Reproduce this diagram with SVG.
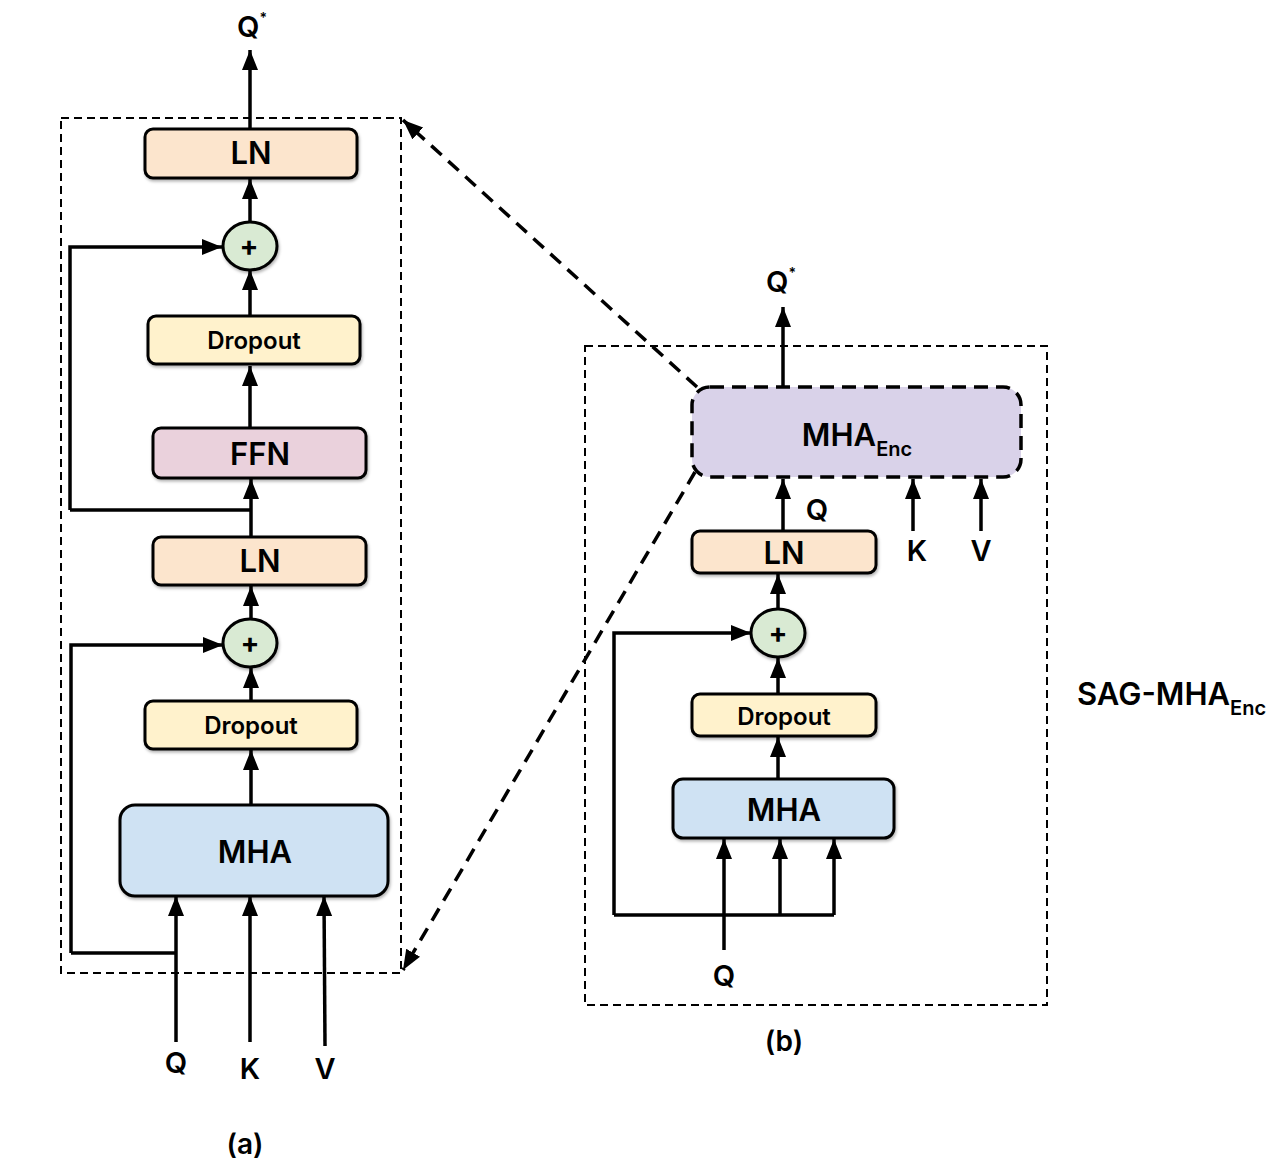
<svg xmlns="http://www.w3.org/2000/svg" width="1275" height="1167" viewBox="0 0 1275 1167">
<style>
text{font-family:Inter,"Noto Sans","Liberation Sans",sans-serif;font-weight:600;fill:#000;text-anchor:middle}
.box{stroke:#000;stroke-width:3}
.ln{fill:#fce5cd}.dp{fill:#fff2cc}.ffn{fill:#ead1dc}.mha{fill:#cfe2f3}.add{fill:#d9ead3;stroke:#000;stroke-width:3}
.enc{fill:#d9d2e9;stroke:#000;stroke-width:3.5;stroke-dasharray:14 8}
.frame{fill:none;stroke:#000;stroke-width:2;stroke-dasharray:8 5}
.w{fill:none;stroke:#000;stroke-width:3.5}
.a{fill:none;stroke:#000;stroke-width:3.5;marker-end:url(#ah)}
.d{fill:none;stroke:#000;stroke-width:3.5;stroke-dasharray:14 9;marker-end:url(#ah)}
.big{font-size:31px}.mid{font-size:24px}.lab{font-size:29px}
.plus{font-size:28px;font-weight:bold}
</style>
<defs>
<marker id="ah" markerUnits="userSpaceOnUse" markerWidth="22" markerHeight="18" refX="20" refY="8" orient="auto">
<path d="M0,0 L20,8 L0,16 z" fill="#000"/>
</marker>
<filter id="sh" x="-10%" y="-10%" width="120%" height="130%">
<feDropShadow dx="1" dy="2" stdDeviation="1.5" flood-color="#000" flood-opacity="0.3"/>
</filter>
</defs>

<rect class="frame" x="61" y="118" width="340" height="855"/>
<rect class="frame" x="585" y="346" width="462" height="659"/>

<g id="connectors">
<line class="a" x1="250" y1="129" x2="250" y2="50"/>
<line class="a" x1="250" y1="222" x2="250" y2="179"/>
<polyline class="a" points="70,510 70,247 222,247"/>
<line class="a" x1="250" y1="316" x2="250" y2="270"/>
<line class="a" x1="250" y1="428" x2="250" y2="366"/>
<line class="w" x1="70" y1="510" x2="251" y2="510"/>
<line class="a" x1="251" y1="537" x2="251" y2="479"/>
<line class="a" x1="251" y1="619" x2="251" y2="586"/>
<polyline class="a" points="71,953 71,645 223,645"/>
<line class="a" x1="251" y1="701" x2="251" y2="668"/>
<line class="a" x1="251" y1="805" x2="251" y2="750"/>
<line class="w" x1="71" y1="953" x2="176" y2="953"/>
<line class="a" x1="176" y1="1042" x2="176" y2="896"/>
<line class="a" x1="250" y1="1042" x2="250" y2="896"/>
<line class="a" x1="325" y1="1046" x2="324" y2="896"/>

<line class="d" x1="697" y1="387" x2="403" y2="120"/>
<line class="d" x1="695" y1="472" x2="403" y2="970"/>

<line class="a" x1="783" y1="387" x2="783" y2="307"/>
<line class="a" x1="783" y1="531" x2="783" y2="479"/>
<line class="a" x1="913" y1="531" x2="913" y2="479"/>
<line class="a" x1="981" y1="531" x2="981" y2="479"/>
<line class="a" x1="778" y1="608" x2="778" y2="574"/>
<polyline class="a" points="614,915 614,633 751,633"/>
<line class="a" x1="778" y1="694" x2="778" y2="658"/>
<line class="a" x1="778" y1="779" x2="778" y2="737"/>
<polyline class="w" points="614,915 834,915"/>
<line class="a" x1="724" y1="950" x2="724" y2="839"/>
<line class="a" x1="780" y1="915" x2="780" y2="839"/>
<line class="a" x1="834" y1="915" x2="834" y2="839"/>
</g>

<text class="lab" x="252" y="37">Q<tspan font-size="14" dy="-14">*</tspan></text>

<g id="a-ln2"><rect class="box ln" filter="url(#sh)" x="145" y="129" width="212" height="49" rx="8"/><text class="big" x="251" y="164">LN</text></g>
<g id="a-add2"><ellipse class="add" filter="url(#sh)" cx="250" cy="246" rx="27" ry="24"/><text class="plus" x="249" y="256">+</text></g>
<g id="a-drop2"><rect class="box dp" filter="url(#sh)" x="148" y="316" width="212" height="48" rx="8"/><text class="mid" x="254" y="349">Dropout</text></g>
<g id="a-ffn"><rect class="box ffn" filter="url(#sh)" x="153" y="428" width="213" height="50" rx="8"/><text class="big" x="260" y="465">FFN</text></g>
<g id="a-ln1"><rect class="box ln" filter="url(#sh)" x="153" y="537" width="213" height="48" rx="8"/><text class="big" x="260" y="572">LN</text></g>
<g id="a-add1"><ellipse class="add" filter="url(#sh)" cx="250" cy="643" rx="27" ry="24"/><text class="plus" x="250" y="653">+</text></g>
<g id="a-drop1"><rect class="box dp" filter="url(#sh)" x="145" y="701" width="212" height="48" rx="8"/><text class="mid" x="251" y="734">Dropout</text></g>
<g id="a-mha"><rect class="box mha" filter="url(#sh)" x="120" y="805" width="268" height="91" rx="15"/><text class="big" x="255" y="863">MHA</text></g>

<text class="lab" x="176" y="1073">Q</text>
<text class="lab" x="250" y="1079">K</text>
<text class="lab" x="325" y="1079">V</text>
<text x="245" y="1154" font-size="28">(a)</text>

<text class="lab" x="781" y="292">Q<tspan font-size="14" dy="-14">*</tspan></text>
<g id="b-enc"><rect class="enc" x="692" y="387" width="329" height="90" rx="18"/><text class="big" x="857" y="446">MHA<tspan font-size="20" dy="10">Enc</tspan></text></g>
<text class="lab" x="817" y="520">Q</text>
<text class="lab" x="917" y="561">K</text>
<text class="lab" x="981" y="561">V</text>
<g id="b-ln"><rect class="box ln" filter="url(#sh)" x="692" y="531" width="184" height="42" rx="8"/><text class="big" x="784" y="564">LN</text></g>
<g id="b-add"><ellipse class="add" filter="url(#sh)" cx="778" cy="633" rx="27" ry="24"/><text class="plus" x="778" y="643">+</text></g>
<g id="b-drop"><rect class="box dp" filter="url(#sh)" x="692" y="694" width="184" height="42" rx="8"/><text class="mid" x="784" y="725">Dropout</text></g>
<g id="b-mha"><rect class="box mha" filter="url(#sh)" x="673" y="779" width="221" height="59" rx="10"/><text class="big" x="784" y="821">MHA</text></g>
<text class="lab" x="724" y="986">Q</text>
<text x="784" y="1051" font-size="28">(b)</text>

<text x="1077" y="705" font-size="31" style="text-anchor:start">SAG-MHA<tspan font-size="20" dy="10">Enc</tspan></text>
</svg>
